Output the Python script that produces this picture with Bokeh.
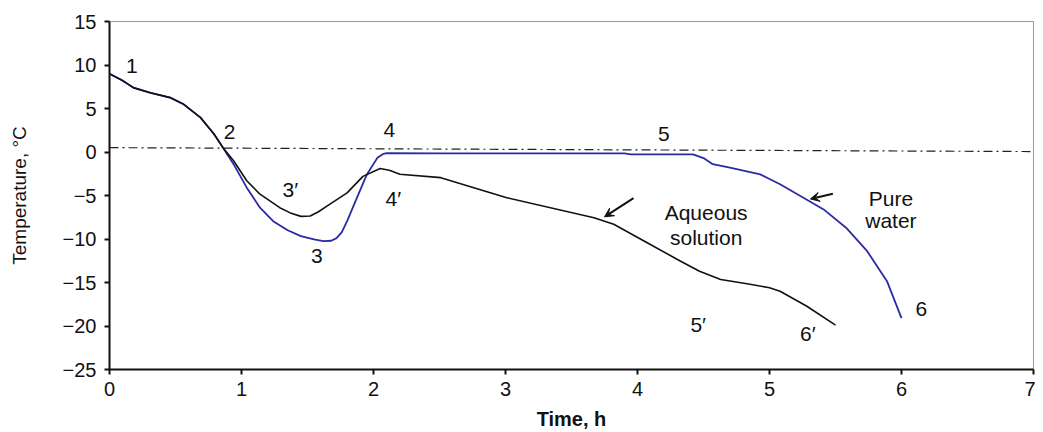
from bokeh.plotting import figure
from bokeh.models import Range1d, FixedTicker, Arrow, VeeHead, CustomJSTickFormatter
from bokeh.core.properties import value
from bokeh.embed import file_html
from bokeh.resources import INLINE

# Aqueous solution (black)
black_x = [0, 0.1, 0.18, 0.31, 0.46, 0.56, 0.69, 0.79, 0.86, 0.94, 1.04, 1.14, 1.29, 1.37, 1.45, 1.52, 1.58, 1.65,
           1.80, 1.92, 2.05, 2.12, 2.20, 2.51, 3.01, 3.67, 3.82, 4.07, 4.32, 4.47, 4.63, 4.83, 5.0, 5.08, 5.28, 5.5]
black_y = [9.0, 8.2, 7.4, 6.8, 6.25, 5.5, 3.95, 2.1, 0.5, -1.0, -3.3, -4.85, -6.4, -7.0, -7.4, -7.35, -6.9, -6.2,
           -4.7, -2.8, -1.9, -2.1, -2.55, -2.95, -5.25, -7.55, -8.3, -10.4, -12.5, -13.7, -14.65, -15.15, -15.6, -16.0, -17.7, -19.9]

# Pure water (blue)
blue_x = [0, 0.1, 0.18, 0.31, 0.46, 0.56, 0.69, 0.79, 0.86, 0.94, 1.04, 1.14, 1.24, 1.35, 1.45, 1.55, 1.62, 1.68, 1.72,
          1.76, 1.80, 1.875, 1.95, 2.03, 2.07, 2.10, 2.5, 3.0, 3.5, 3.9, 3.95, 4.42, 4.5, 4.57, 4.70, 4.93, 5.08, 5.28,
          5.41, 5.58, 5.74, 5.89, 6.0]
blue_y = [9.0, 8.2, 7.4, 6.8, 6.25, 5.5, 3.95, 2.1, 0.5, -1.4, -4.1, -6.4, -7.95, -9.0, -9.67, -10.05, -10.25, -10.2, -9.9,
          -9.2, -7.95, -5.25, -2.57, -0.65, -0.25, -0.12, -0.15, -0.15, -0.15, -0.15, -0.27, -0.27, -0.7, -1.4, -1.8, -2.57, -3.7, -5.45,
          -6.6, -8.7, -11.4, -14.85, -19.1]

# Freezing reference line
ref_x = [0, 7]
ref_y = [0.5, 0.05]

x_ticks = [0, 1, 2, 3, 4, 5, 6, 7]
y_ticks = [-25, -20, -15, -10, -5, 0, 5, 10, 15]

label_text = ["1", "2", "3\u2032", "3", "4", "4\u2032", "5", "6", "5\u2032", "6\u2032",
              "Aqueous", "solution", "Pure", "water"]
label_x = [0.17, 0.91, 1.37, 1.57, 2.12, 2.15, 4.2, 6.15, 4.46, 5.29, 4.52, 4.52, 5.92, 5.92]
label_y = [9.9, 2.3, -4.3, -11.9, 2.5, -5.3, 2.1, -18.0, -19.8, -20.9, -6.9, -9.8, -5.3, -7.9]

FONT = "Liberation Sans"

p = figure(frame_width=924, frame_height=348, output_backend="svg", toolbar_location=None,
           x_range=Range1d(0, 7), y_range=Range1d(-25, 15),
           min_border_left=109, min_border_right=2, min_border_top=21, min_border_bottom=60)

p.xgrid.visible = False
p.ygrid.visible = False
p.outline_line_color = "#999999"
p.outline_line_width = 1
p.background_fill_color = "white"
p.border_fill_color = "white"

for ax in (p.xaxis[0], p.yaxis[0]):
    ax.axis_line_width = 2
    ax.axis_line_color = "#111111"
    ax.major_tick_line_width = 2
    ax.major_tick_line_color = "#111111"
    ax.major_tick_in = 0
    ax.major_tick_out = 5
    ax.minor_tick_line_color = None
    ax.major_label_text_font = FONT
    ax.major_label_text_font_size = "20px"
    ax.major_label_text_color = "#111111"

p.xaxis.ticker = FixedTicker(ticks=x_ticks)
p.yaxis.ticker = FixedTicker(ticks=y_ticks)
p.yaxis.formatter = CustomJSTickFormatter(code="return tick < 0 ? '\u2212' + Math.abs(tick) : '' + tick;")
p.xaxis.major_label_standoff = 7
p.yaxis.major_label_standoff = 8

p.xaxis.axis_label = "Time, h"
p.xaxis.axis_label_text_font = FONT
p.xaxis.axis_label_text_font_style = "bold"
p.xaxis.axis_label_text_font_size = "20px"
p.xaxis.axis_label_standoff = 9
p.yaxis.axis_label = "Temperature, \u00b0C"
p.yaxis.axis_label_text_font = FONT
p.yaxis.axis_label_text_font_style = "normal"
p.yaxis.axis_label_text_font_size = "19px"
p.yaxis.axis_label_text_color = "#111111"
p.xaxis.axis_label_text_color = "#111111"
p.yaxis.axis_label_standoff = 30

p.line(ref_x, ref_y, line_color="#222222", line_width=1.2, line_dash="9 4 2 4")
p.line(blue_x, blue_y, line_color="#2b2ba6", line_width=1.8)
p.line(black_x, black_y, line_color="#111111", line_width=1.6)

p.text(label_x, label_y, text=label_text, text_font=value(FONT), text_font_size="21px",
       text_color="#111111", text_align="center", text_baseline="middle")

p.add_layout(Arrow(x_start=3.97, y_start=-5.3, x_end=3.75, y_end=-7.45, line_width=2, line_color="#111111",
                   end=VeeHead(size=9, fill_color="#111111", line_color="#111111")))
p.add_layout(Arrow(x_start=5.48, y_start=-4.8, x_end=5.31, y_end=-5.4, line_width=2, line_color="#111111",
                   end=VeeHead(size=9, fill_color="#111111", line_color="#111111")))

open("out.html", "w").write(file_html(p, INLINE))
